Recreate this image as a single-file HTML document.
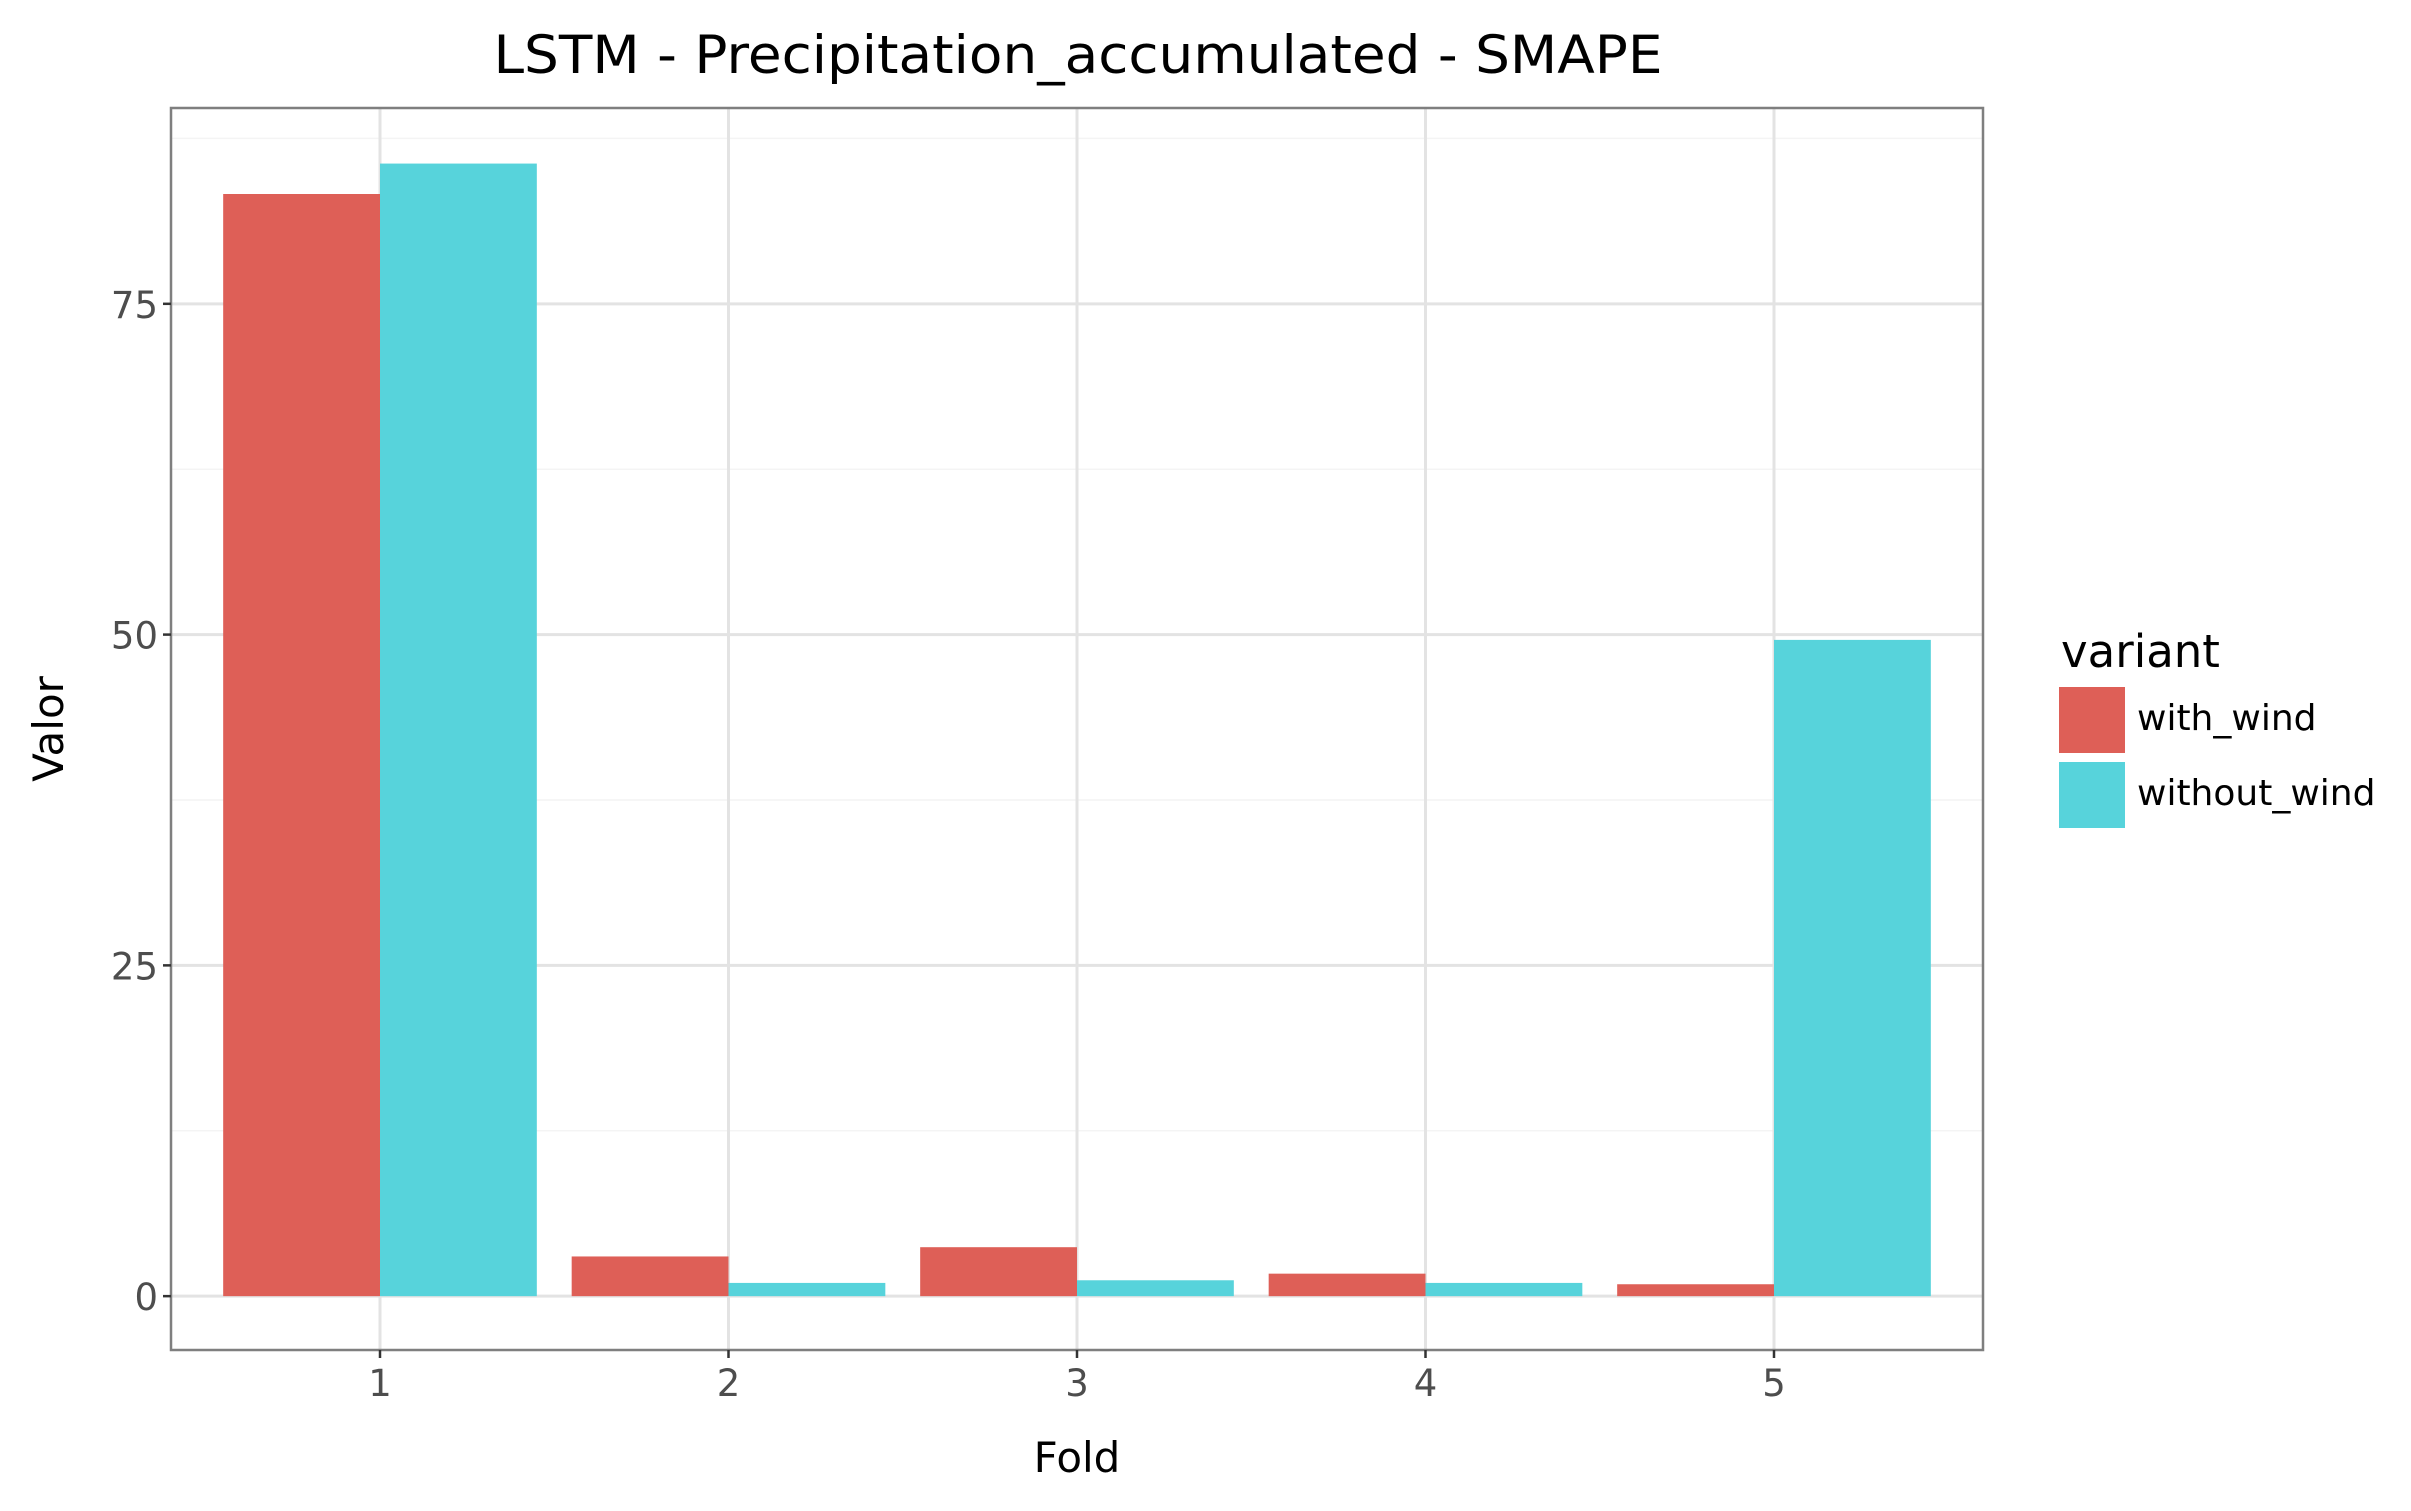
<!DOCTYPE html>
<html><head><meta charset="utf-8"><style>
html,body{margin:0;padding:0;background:#fff;}
svg{display:block;font-family:"DejaVu Sans","Liberation Sans",sans-serif;}
</style></head><body>
<svg id="chart" width="2411" height="1511" viewBox="0 0 2411 1511">
<rect x="0" y="0" width="2411" height="1511" fill="#fff"/>
<g id="grid"></g>
<g id="bars"></g>
<rect x="171" y="108" width="1812" height="1242" fill="none" stroke="#7f7f7f" stroke-width="2.5"/>
<g id="axes"></g>
<text x="1078" y="73" font-size="53" text-anchor="middle" textLength="1169" lengthAdjust="spacingAndGlyphs" fill="#000">LSTM - Precipitation_accumulated - SMAPE</text>
<text x="1077" y="1472" font-size="42" text-anchor="middle" fill="#000">Fold</text>
<text x="0" y="0" font-size="42" text-anchor="middle" fill="#000" transform="translate(63,729) rotate(-90)">Valor</text>
<g>
<text x="2061" y="667" font-size="45" fill="#000">variant</text>
<rect x="2059" y="687" width="66" height="66" fill="#DE5F57"/>
<text x="2137" y="730" font-size="36" fill="#000">with_wind</text>
<rect x="2059" y="762" width="66" height="66" fill="#57D3DB"/>
<text x="2137" y="805" font-size="36" fill="#000">without_wind</text>
</g>
</svg>
<script>
const categories = [1, 2, 3, 4, 5];
const withWind = [83.3, 3.0, 3.7, 1.7, 0.9];
const withoutWind = [85.6, 1.0, 1.2, 1.0, 49.6];
const yTicks = [0, 25, 50, 75];
const yMinor = [12.5, 37.5, 62.5, 87.5];

const NS = "http://www.w3.org/2000/svg";
const pL = 171, pR = 1983, pT = 108, pB = 1350;
const yMin = -4.07, yMax = 89.8;
function y(v){ return pB - (v - yMin) / (yMax - yMin) * (pB - pT); }
const xStep = 348.5, x0 = 380;
function x(c){ return x0 + (c - 1) * xStep; }
const bw = xStep * 0.45;
function mk(tag, attrs, parent){ const e = document.createElementNS(NS, tag); for (const k in attrs) e.setAttribute(k, attrs[k]); parent.appendChild(e); return e; }

const grid = document.getElementById('grid');
const bars = document.getElementById('bars');
const axes = document.getElementById('axes');

yMinor.forEach(v => {
  const l = mk('line', {x1:pL, x2:pR, y1:y(v), y2:y(v), stroke:'#f4f4f4', 'stroke-width':1.5}, grid);
  
  
});
yTicks.forEach(v => {
  const l = mk('line', {x1:pL, x2:pR, y1:y(v), y2:y(v), stroke:'#e3e3e3', 'stroke-width':3}, grid);
  
  
  const t = mk('line', {x1:pL-8, x2:pL, y1:y(v), y2:y(v), stroke:'#333', 'stroke-width':2.5}, axes);
  
  
  const tx = mk('text', {x:pL-13, y:y(v)+14, 'font-size':37, 'text-anchor':'end', fill:'#4d4d4d'}, axes);
  tx.textContent = v;
  
  
});
categories.forEach(c => {
  const l = mk('line', {x1:x(c), x2:x(c), y1:pT, y2:pB, stroke:'#e3e3e3', 'stroke-width':3}, grid);
  
  
  const t = mk('line', {x1:x(c), x2:x(c), y1:pB, y2:pB+8, stroke:'#333', 'stroke-width':2.5}, axes);
  
  
  const tx = mk('text', {x:x(c), y:pB+46, 'font-size':37, 'text-anchor':'middle', fill:'#4d4d4d'}, axes);
  tx.textContent = c;
  
  
});
categories.forEach((c, i) => {
  const a = mk('rect', {x:x(c)-bw, y:y(withWind[i]), width:bw, height:y(0)-y(withWind[i]), fill:'#DE5F57'}, bars);
  
  
  const b = mk('rect', {x:x(c), y:y(withoutWind[i]), width:bw, height:y(0)-y(withoutWind[i]), fill:'#57D3DB'}, bars);
  
  
});
</script>
</body></html>
